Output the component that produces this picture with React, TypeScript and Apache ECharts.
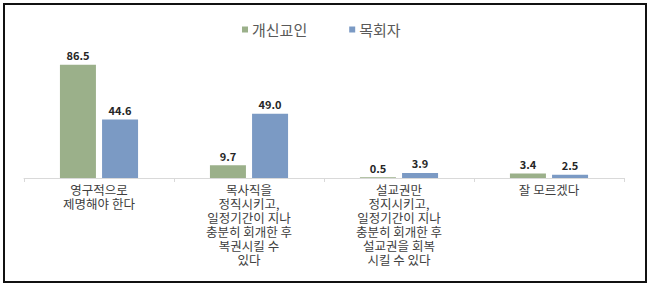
import React, { useEffect, useRef } from "react";
import * as echarts from "echarts";

const categories = [
  "영구적으로\n제명해야 한다",
  "목사직을\n정직시키고,\n일정기간이 지나\n충분히 회개한 후\n복권시킬 수\n있다",
  "설교권만\n정지시키고,\n일정기간이 지나\n충분히 회개한 후\n설교권을 회복\n시킬 수 있다",
  "잘 모르겠다",
];
const seriesNames = ["개신교인", "목회자"];
const protestants = [86.5, 9.7, 0.5, 3.4];
const pastors = [44.6, 49.0, 3.9, 2.5];
const colors = ["#9bb08a", "#7b9ac4"];

const FONT = "'Noto Sans CJK KR', 'Noto Sans', sans-serif";

export default function App() {
  const ref = useRef<HTMLDivElement>(null);
  useEffect(() => {
    if (!ref.current) return;
    const chart = echarts.init(ref.current, undefined, { renderer: "svg" });
    const label = {
      show: true,
      position: "top",
      distance: 4,
      fontSize: 11,
      fontWeight: "bold",
      color: "#262626",
      fontFamily: FONT,
      formatter: (p: any) => Number(p.value).toFixed(1),
    };
    chart.setOption({
      animation: false,
      backgroundColor: "#ffffff",
      graphic: [
        {
          type: "rect",
          shape: { x: 4, y: 4, width: 642, height: 278 },
          style: { fill: "none", stroke: "#111111", lineWidth: 2 },
          z: 100,
        },
      ],
      legend: {
        top: 17,
        left: 237,
        itemWidth: 6,
        itemHeight: 6,
        itemGap: 42,
        icon: "rect",
        textStyle: { fontSize: 15, color: "#595959", fontFamily: FONT, padding: [0, 0, 0, -1] },
        data: seriesNames,
      },
      grid: { left: 24, right: 27, top: 47, bottom: 107, containLabel: false },
      xAxis: {
        type: "category",
        data: categories,
        axisLine: { lineStyle: { color: "#d9d9d9" } },
        axisTick: { show: true, length: 4, lineStyle: { color: "#d9d9d9" } },
        axisLabel: {
          interval: 0,
          fontSize: 12.5,
          lineHeight: 14,
          color: "#404040",
          fontFamily: FONT,
          margin: 4,
        },
      },
      yAxis: { type: "value", min: 0, max: 100, show: false, splitLine: { show: false } },
      series: [
        {
          name: seriesNames[0],
          type: "bar",
          data: protestants,
          barWidth: 36,
          barGap: "17%",
          itemStyle: { color: colors[0] },
          label,
        },
        {
          name: seriesNames[1],
          type: "bar",
          data: pastors,
          barWidth: 36,
          itemStyle: { color: colors[1] },
          label,
        },
      ],
    });
    return () => chart.dispose();
  }, []);
  return (
    <div style={{ position: "fixed", left: 0, top: 0, width: 651, height: 285, background: "#fff" }}>
      <div ref={ref} style={{ width: 651, height: 285 }} />
    </div>
  );
}
